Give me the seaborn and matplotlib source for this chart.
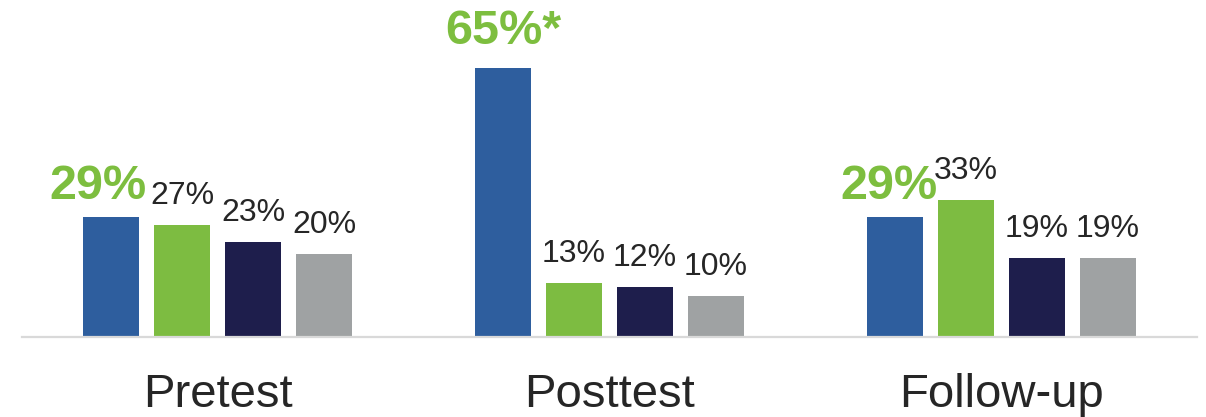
import numpy as np
import pandas as pd
import matplotlib
matplotlib.use("Agg")
import matplotlib.pyplot as plt
import seaborn as sns

# данные с картинки
groups = ["Pretest", "Posttest", "Follow-up"]
series = ["Series 1", "Series 2", "Series 3", "Series 4"]
s1 = [29, 65, 29]
s2 = [27, 13, 33]
s3 = [23, 12, 19]
s4 = [20, 10, 19]
s1_labels = ["29%", "65%*", "29%"]

colors = ["#2E5E9E", "#7DBC41", "#1E1E4C", "#9FA2A3"]
green_txt = "#7DBE3F"
dark_txt = "#262626"

rows = []
for name, vals in zip(series, [s1, s2, s3, s4]):
    for g, v in zip(groups, vals):
        rows.append({"group": g, "series": name, "value": v})
df = pd.DataFrame(rows)

sns.set_style("white")
plt.rcParams["font.family"] = ["Liberation Sans", "DejaVu Sans"]

fig = plt.figure(figsize=(12.06, 4.17), dpi=100)
ax = fig.add_axes([22 / 1206, 80 / 417, 1175 / 1206, 337 / 417])

sns.barplot(data=df, x="group", y="value", hue="series", palette=colors,
            order=groups, hue_order=series, width=0.724, gap=0.21,
            saturation=1, linewidth=0, legend=False, ax=ax)

ax.set_xlim(-0.5, 2.5)
ax.set_ylim(0, 81.4)
ax.set_xlabel("")
ax.set_ylabel("")
ax.set_yticks([])
for s in ["top", "left", "right"]:
    ax.spines[s].set_visible(False)
ax.spines["bottom"].set_color("#D9D9D9")
ax.spines["bottom"].set_linewidth(1.6)
ax.tick_params(axis="x", length=0, pad=26, labelsize=34, labelcolor=dark_txt)

# подписи значений
shift = [-10, 0, -4]
lift = [6, 10, 6]
for k, cont in enumerate(ax.containers):
    for i, bar in enumerate(cont):
        xc = bar.get_x() + bar.get_width() / 2
        h = bar.get_height()
        if k == 0:
            ax.annotate(s1_labels[i], (xc, h), xytext=(shift[i], lift[i]),
                        textcoords="offset points", ha="center", va="bottom",
                        fontsize=35, fontweight="bold", color=green_txt)
        else:
            ax.annotate(f"{h:.0f}%", (xc, h), xytext=(0, 10),
                        textcoords="offset points", ha="center", va="bottom",
                        fontsize=23, color=dark_txt)

fig.savefig("out.png", dpi=100)
